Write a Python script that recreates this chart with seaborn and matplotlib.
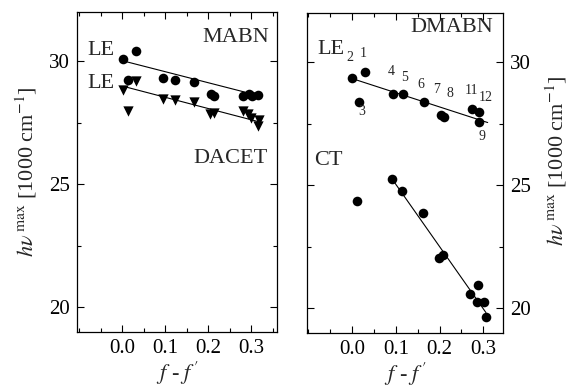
import matplotlib
matplotlib.use("Agg")
import matplotlib.pyplot as plt
import seaborn as sns
from matplotlib.ticker import MultipleLocator, FixedLocator

# ---------------- data ----------------
mabn_x = [0.003, 0.033, 0.013, 0.095, 0.122, 0.168, 0.207, 0.213, 0.280, 0.295, 0.303, 0.315]
mabn_y = [30.11, 30.42, 29.23, 29.30, 29.24, 29.15, 28.68, 28.57, 28.59, 28.66, 28.59, 28.62]
dacet_x = [0.003, 0.013, 0.033, 0.095, 0.122, 0.168, 0.205, 0.213, 0.280, 0.292, 0.300, 0.318, 0.315]
dacet_y = [28.83, 27.98, 29.20, 28.48, 28.43, 28.33, 27.85, 27.90, 27.98, 27.87, 27.71, 27.60, 27.37]
mabn_fit_x = [0.003, 0.320]
mabn_fit_y = [30.01, 28.59]
dacet_fit_x = [0.005, 0.320]
dacet_fit_y = [28.97, 27.53]

dmabn_le_labels = ["1", "2", "3", "4", "5", "6", "7", "8", "9", "11", "12"]
dmabn_le_x = [0.030, 0.000, 0.015, 0.094, 0.117, 0.164, 0.204, 0.209, 0.291, 0.274, 0.291]
dmabn_le_y = [29.62, 29.35, 28.39, 28.71, 28.71, 28.39, 27.85, 27.77, 27.57, 28.08, 27.97]
dmabn_ct_x = [0.012, 0.092, 0.115, 0.161, 0.198, 0.208, 0.270, 0.287, 0.285, 0.302, 0.306]
dmabn_ct_y = [24.36, 25.24, 24.77, 23.86, 22.06, 22.16, 20.58, 20.97, 20.27, 20.27, 19.67]
le_fit_x = [0.003, 0.310]
le_fit_y = [29.32, 27.55]
ct_fit_x = [0.0925, 0.306]
ct_fit_y = [25.23, 19.83]

# label positions for the numbered points (text anchors)
num_label_x = [0.026, -0.005, 0.022, 0.090, 0.120, 0.157, 0.194, 0.224, 0.298, 0.272, 0.306]
num_label_y = [30.34, 30.20, 27.98, 29.63, 29.39, 29.09, 28.88, 28.71, 27.00, 28.84, 28.57]

x_ticks = [0.0, 0.1, 0.2, 0.3]
x_ticklabels = ["0.0", "0.1", "0.2", "0.3"]
y_ticks = [20, 25, 30]
y_ticklabels = ["20", "25", "30"]

# ---------------- style ----------------
sns.set_style("ticks")
plt.rcParams["font.family"] = ["Liberation Serif", "DejaVu Serif"]
plt.rcParams["mathtext.fontset"] = "stix"

fig = plt.figure(figsize=(5.71, 3.86), dpi=100)
axL = fig.add_axes([77 / 571, 54 / 386, 200 / 571, 320 / 386])
axR = fig.add_axes([307 / 571, 53 / 386, 196 / 571, 320 / 386])

ylab = r"$h\nu^{\,\mathrm{max}}$ [1000 cm$^{\mathrm{-1}}$]"
xlab = r"$f$ - $f\,'$"

for ax in (axL, axR):
    ax.set_ylim(19.0, 32.0)
    ax.xaxis.set_major_locator(FixedLocator(x_ticks))
    ax.set_xticklabels(x_ticklabels)
    ax.xaxis.set_minor_locator(MultipleLocator(0.05))
    ax.yaxis.set_major_locator(FixedLocator(y_ticks))
    ax.set_yticklabels(y_ticklabels)
    ax.yaxis.set_minor_locator(MultipleLocator(2.5))
    ax.tick_params(which="both", direction="in", top=True, bottom=True, left=True, right=True,
                   width=0.8, labelsize=15, colors="black")
    ax.tick_params(which="major", length=5, pad=5)
    ax.tick_params(which="minor", length=3)
    for s in ax.spines.values():
        s.set_visible(True)
        s.set_linewidth(0.9)
        s.set_color("black")
    ax.set_xlabel(xlab, fontsize=16, labelpad=1)

axL.set_xlim(-0.105, 0.360)
axR.set_xlim(-0.103, 0.345)

# left panel
sns.lineplot(x=mabn_fit_x, y=mabn_fit_y, ax=axL, color="black", lw=0.8)
sns.lineplot(x=dacet_fit_x, y=dacet_fit_y, ax=axL, color="black", lw=0.8)
sns.scatterplot(x=mabn_x, y=mabn_y, ax=axL, marker="o", color="black", s=48, linewidth=0)
sns.scatterplot(x=dacet_x, y=dacet_y, ax=axL, marker="v", color="black", s=55, linewidth=0)
axL.text(0.263, 30.98, "MABN", fontsize=16, ha="center", va="center")
axL.text(-0.050, 30.42, "LE", fontsize=16, ha="center", va="center")
axL.text(-0.050, 29.11, "LE", fontsize=16, ha="center", va="center")
axL.text(0.251, 26.06, "DACET", fontsize=16, ha="center", va="center")
axL.set_ylabel(ylab, fontsize=16)
axL.yaxis.set_label_coords(-0.19, 0.5)

# right panel
sns.lineplot(x=le_fit_x, y=le_fit_y, ax=axR, color="black", lw=0.8)
sns.lineplot(x=ct_fit_x, y=ct_fit_y, ax=axR, color="black", lw=0.8)
sns.scatterplot(x=dmabn_le_x, y=dmabn_le_y, ax=axR, marker="o", color="black", s=48, linewidth=0)
sns.scatterplot(x=dmabn_ct_x, y=dmabn_ct_y, ax=axR, marker="o", color="black", s=48, linewidth=0)
for lab, tx, ty in zip(dmabn_le_labels, num_label_x, num_label_y):
    axR.text(tx, ty, lab, fontsize=10, ha="center", va="center")
axR.text(0.227, 31.40, "DMABN", fontsize=16, ha="center", va="center")
axR.text(-0.048, 30.50, "LE", fontsize=16, ha="center", va="center")
axR.text(-0.055, 26.00, "CT", fontsize=16, ha="center", va="center")
axR.tick_params(axis="y", which="both", labelleft=False, labelright=True)
axR.yaxis.set_label_position("right")
axR.set_ylabel(ylab, fontsize=16, rotation=90, va="center", ha="center")
axR.yaxis.set_label_coords(1.27, 0.54)

fig.savefig("out.png", dpi=100)
